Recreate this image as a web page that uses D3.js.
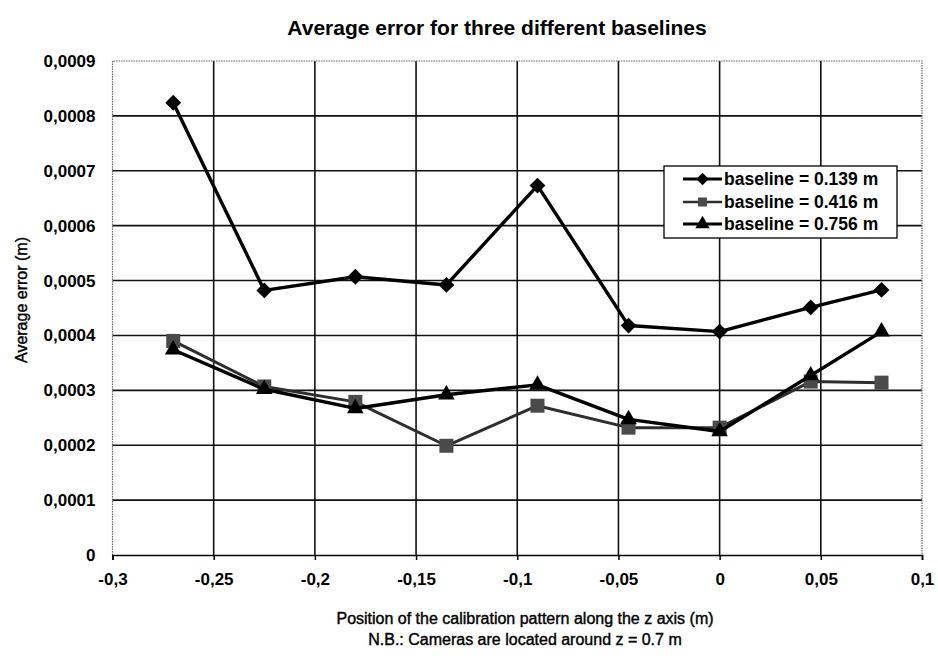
<!DOCTYPE html>
<html lang="en">
<head>
<meta charset="UTF-8">
<title>Average error for three different baselines</title>
<script src="https://d3js.org/d3.v7.min.js"></script>
<style>
  body { margin: 0; background: #fff; }
  text { font-family: "Liberation Sans", Arial, sans-serif; fill: #000; }
</style>
</head>
<body>
<svg id="chart" width="938" height="656"></svg>
<script>
// positions along z (m)
const zPos = [-0.27, -0.225, -0.18, -0.135, -0.09, -0.045, 0, 0.045, 0.08];
// average error (m) per baseline
const err139 = [0.000824, 0.000482, 0.000507, 0.000492, 0.000673, 0.000418, 0.000407, 0.000451, 0.000483];
const err416 = [0.000390, 0.000307, 0.000279, 0.000199, 0.000272, 0.000232, 0.000232, 0.000316, 0.000314];
const err756 = [0.000374, 0.000302, 0.000267, 0.000292, 0.000310, 0.000247, 0.000225, 0.000327, 0.000407];
const seriesNames = ["baseline = 0.139 m", "baseline = 0.416 m", "baseline = 0.756 m"];
const xDomain = [-0.3, 0.1];
const yDomain = [0, 0.0009];

const svg = d3.select("#chart");
const margin = {left: 112.5, top: 61, right: 16, bottom: 101};
const W = 938, H = 656;
const x = d3.scaleLinear().domain(xDomain).range([margin.left, W - margin.right]);
const y = d3.scaleLinear().domain(yDomain).range([H - margin.bottom, margin.top]);

const loc = d3.formatLocale({decimal: ",", thousands: ".", grouping: [3], currency: ["", ""], minus: "-"});
const fy = d => d === 0 ? "0" : loc.format(".4f")(d);
const fx = loc.format("~g");

const xTicks = x.ticks(8);
const yTicks = y.ticks(9);

// grid
const grid = svg.append("g");
grid.selectAll(".hg").data(yTicks.filter(d => d > 0 && d < 0.0009)).enter().append("line")
  .attr("x1", x(xDomain[0])).attr("x2", x(xDomain[1]))
  .attr("y1", d => y(d)).attr("y2", d => y(d))
  .attr("stroke", "#111").attr("stroke-width", 1.6);
grid.selectAll(".vg").data(xTicks.filter(d => d > -0.3 + 1e-9 && d < 0.1 - 1e-9)).enter().append("line")
  .attr("x1", d => x(d)).attr("x2", d => x(d))
  .attr("y1", y(yDomain[0])).attr("y2", y(yDomain[1]))
  .attr("stroke", "#111").attr("stroke-width", 1.6);

// plot frame (dotted on left/top/right)
svg.append("path")
  .attr("d", `M${x(xDomain[0])},${y(0)}V${y(yDomain[1])}H${x(xDomain[1])}V${y(0)}`)
  .attr("fill", "none").attr("stroke", "#666").attr("stroke-width", 1.2)
  .attr("stroke-dasharray", "1.5,1");

// x axis
const xAxis = svg.append("g").attr("transform", `translate(0,${y(0)})`)
  .call(d3.axisBottom(x).tickValues(xTicks).tickFormat(fx).tickSize(5).tickPadding(13));
xAxis.select(".domain").attr("stroke", "#000").attr("stroke-width", 1.6);
xAxis.selectAll(".tick line").attr("stroke", "#000").attr("stroke-width", 1.5);
xAxis.selectAll("text").attr("font-size", 17).attr("font-weight", "bold");

// y labels
const yAxis = svg.append("g").attr("transform", `translate(${x(xDomain[0])},0)`)
  .call(d3.axisLeft(y).tickValues(yTicks).tickFormat(fy).tickSize(0).tickPadding(17));
yAxis.select(".domain").remove();
yAxis.selectAll("text").attr("font-size", 17).attr("font-weight", "bold");

// titles
svg.append("text").attr("x", 497).attr("y", 28).attr("dy", "0.35em")
  .attr("text-anchor", "middle").attr("font-size", 21).attr("font-weight", "bold")
  .text("Average error for three different baselines");
svg.append("text").attr("x", 525).attr("y", 618).attr("dy", "0.35em")
  .attr("text-anchor", "middle").attr("font-size", 16)
  .attr("stroke", "#000").attr("stroke-width", 0.4)
  .text("Position of the calibration pattern along the z axis (m)");
svg.append("text").attr("x", 525).attr("y", 639).attr("dy", "0.35em")
  .attr("text-anchor", "middle").attr("font-size", 16)
  .attr("stroke", "#000").attr("stroke-width", 0.4)
  .text("N.B.: Cameras are located around z = 0.7 m");
svg.append("text").attr("transform", "translate(21,300) rotate(-90)").attr("dy", "0.35em")
  .attr("text-anchor", "middle").attr("font-size", 16)
  .attr("stroke", "#000").attr("stroke-width", 0.4)
  .text("Average error (m)");

// markers
const diamond = d3.symbol().type(d3.symbolDiamond2).size(160);
const square = d3.symbol().type(d3.symbolSquare).size(196);
const triangle = d3.symbol().type(d3.symbolTriangle).size(120);
const styles = [
  {vals: err139, sym: diamond, line: "#000", fill: "#000", w: 3.4},
  {vals: err416, sym: square, line: "#2e2e2e", fill: "#4a4a4a", w: 3},
  {vals: err756, sym: triangle, line: "#000", fill: "#000", w: 3.4}
];

const line = d3.line().x(d => x(d[0])).y(d => y(d[1]));
// draw square series first so others sit on top
[1, 2, 0].forEach(i => {
  const s = styles[i];
  const pts = zPos.map((z, k) => [z, s.vals[k]]);
  svg.append("path").datum(pts).attr("d", line)
    .attr("fill", "none").attr("stroke", s.line).attr("stroke-width", s.w)
    .attr("stroke-linejoin", "round");
  svg.append("g").selectAll("path").data(pts).enter().append("path")
    .attr("d", s.sym)
    .attr("transform", d => `translate(${x(d[0])},${y(d[1])})`)
    .attr("fill", s.fill);
});

// legend
const lg = svg.append("g");
lg.append("rect").attr("x", 664).attr("y", 166).attr("width", 233).attr("height", 72)
  .attr("fill", "#fff").attr("stroke", "#000").attr("stroke-width", 1.3);
const rowY = [179, 202, 224];
const legendSyms = [
  d3.symbol().type(d3.symbolDiamond2).size(100),
  d3.symbol().type(d3.symbolSquare).size(80),
  d3.symbol().type(d3.symbolTriangle).size(90)
];
styles.forEach((s, i) => {
  lg.append("line").attr("x1", 683).attr("x2", 722).attr("y1", rowY[i]).attr("y2", rowY[i])
    .attr("stroke", s.line).attr("stroke-width", s.w - 0.6);
  lg.append("path").attr("d", legendSyms[i])
    .attr("transform", `translate(702.5,${rowY[i]})`).attr("fill", s.fill);
  lg.append("text").attr("x", 724).attr("y", rowY[i]).attr("dy", "0.35em")
    .attr("font-size", 17.5).attr("font-weight", "bold").text(seriesNames[i]);
});
</script>
</body>
</html>
